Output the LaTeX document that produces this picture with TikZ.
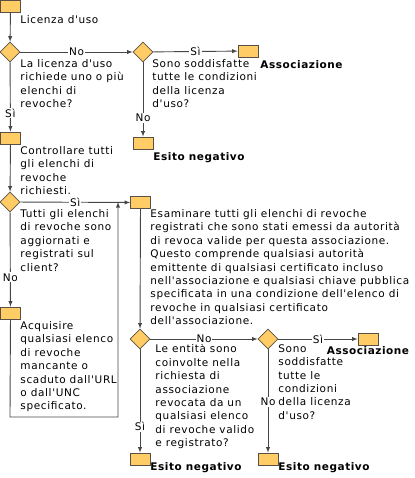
\documentclass[tikz,border=0pt]{standalone}
\usepackage{fontspec}
\newfontfamily\diafont[Ligatures=TeXOff,LetterSpace=6]{DejaVu Sans}
\newfontfamily\resfont[Ligatures=TeXOff,LetterSpace=5]{DejaVu Sans}
\usetikzlibrary{shapes.geometric}
\usetikzlibrary{positioning}
\definecolor{boxfill}{RGB}{255,204,102}
\definecolor{boxline}{RGB}{90,80,70}
\definecolor{flowline}{RGB}{70,70,70}
\begin{document}
\begin{tikzpicture}[x=1pt, y=-1pt, line width=0.9pt,
  every node/.style={font=\diafont\fontsize{10.5}{13.4}\selectfont},
  step box/.style={draw=boxline, fill=boxfill, line width=0.8pt, minimum width=20pt, minimum height=12pt, inner sep=0pt},
  decision/.style={diamond, draw=boxline, fill=boxfill, line width=0.8pt, minimum width=20pt, minimum height=20pt, inner sep=0pt},
  txt/.style={anchor=north west, align=left, inner sep=0pt},
  result/.style={inner sep=0pt, font=\resfont\bfseries\fontsize{10.5}{13.4}\selectfont},
  answer/.style={fill=white, inner sep=1pt},
  flow/.style={draw=flowline, -latex}]
\useasboundingbox (0,0) rectangle (414,478);
% first column
\node (start) at (10.5,6.5) [step box] {};
\node (tstart) at (20,15) [txt] {Licenza d'uso};
\node (q1) at (10,52) [decision] {};
\node (tq1) at (20,59) [txt] {La licenza d'uso\\richiede uno o più\\elenchi di\\revoche?};
\node (q2) at (143,52) [decision] {};
\node (tq2) at (152,59) [txt] {Sono soddisfatte\\tutte le condizioni\\della licenza\\d'uso?};
\node (assoc1) at (248,51) [step box] {};
\node (rassoc1) at (260,60) [result, anchor=north west] {Associazione};
\node (neg1) at (143,143) [step box] {};
\node (rneg1) at (153,152) [result, anchor=north west] {Esito negativo};
\node (check) at (10.5,138) [step box] {};
\node (tcheck) at (20,146) [txt] {Controllare tutti\\gli elenchi di\\revoche\\richiesti.};
\node (q3) at (10,202) [decision] {};
\node (tq3) at (20,209) [txt] {Tutti gli elenchi\\di revoche sono\\aggiornati e\\registrati sul\\client?};
\node (fetch) at (10.5,313) [step box] {};
\node (tfetch) at (20,321) [txt] {Acquisire\\qualsiasi elenco\\di revoche\\mancante o\\scaduto dall'URL\\o dall'UNC\\specificato.};
\coordinate (loopa) at (10,417);
\coordinate (loopb) at (118,417);
\coordinate (join) at (118,202);
% second column
\node (exam) at (140.5,202.5) [step box] {};
\node (texam) at (150,209) [txt] {Esaminare tutti gli elenchi di revoche\\registrati che sono stati emessi da autorità\\di revoca valide per questa associazione.\\Questo comprende qualsiasi autorità\\emittente di qualsiasi certificato incluso\\nell'associazione e qualsiasi chiave pubblica\\specificata in una condizione dell'elenco di\\revoche in qualsiasi certificato\\dell'associazione.};
\node (q4) at (140,339) [decision] {};
\node (tq4) at (155,344) [txt] {Le entità sono\\coinvolte nella\\richiesta di\\associazione\\revocata da un\\qualsiasi elenco\\di revoche valido\\e registrato?};
\node (q5) at (268,339) [decision] {};
\node (tq5) at (278,344) [txt] {Sono\\soddisfatte\\tutte le\\condizioni\\della licenza\\d'uso?};
\node (assoc2) at (368,339) [step box] {};
\node (rassoc2) at (368,346) [result, anchor=north] {Associazione};
\node (neg2) at (140,459) [step box] {};
\node (rneg2) at (150,462) [result, anchor=north west] {Esito negativo};
\node (neg3) at (268,459) [step box] {};
\node (rneg3) at (278,462) [result, anchor=north west] {Esito negativo};
% connectors
\draw[flow] (start) -- (q1);
\draw[flow] (q1) -- node[answer] {No} (q2);
\draw[flow] (q2) -- node[answer] {Sì} (assoc1);
\draw[flow] (q2) -- node[answer, pos=0.75] {No} (neg1);
\draw[flow] (q1) -- node[answer, pos=0.73] {Sì} (check);
\draw[flow] (check) -- (q3);
\draw[flow] (q3) -- node[answer] {Sì} (exam);
\draw[flow] (q3) -- node[answer, pos=0.69] {No} (fetch);
\draw[flow] (fetch) -- (loopa) -- (loopb) -- (join);
\draw[flow] (exam) -- (q4);
\draw[flow] (q4) -- node[answer] {No} (q5);
\draw[flow] (q5) -- node[answer] {Sì} (assoc2);
\draw[flow] (q4) -- node[answer, pos=0.75] {Sì} (neg2);
\draw[flow] (q5) -- node[answer, pos=0.51] {No} (neg3);
\end{tikzpicture}
\end{document}
